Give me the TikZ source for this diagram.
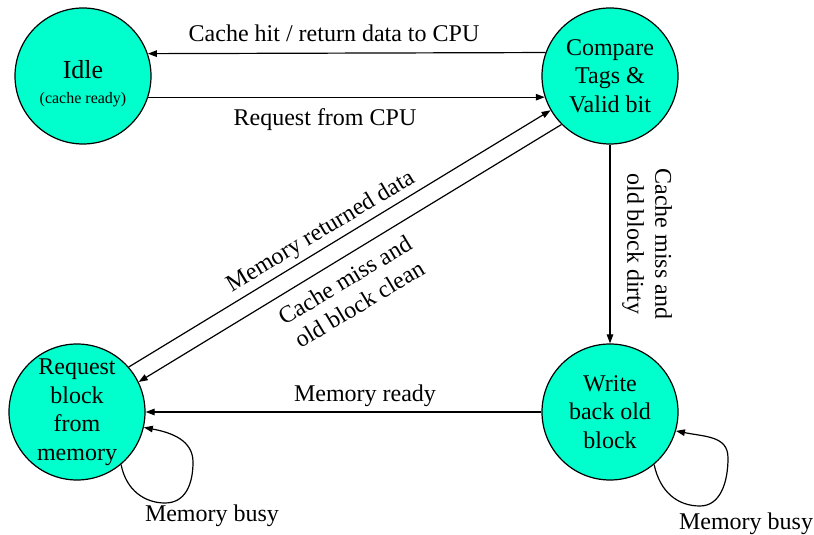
\documentclass[tikz,border=0pt]{standalone}
\usepackage{fontspec}
\setmainfont{Liberation Serif}
\usetikzlibrary{arrows.meta,calc}
\definecolor{statefill}{HTML}{00FFCC}
\tikzset{
  state/.style={circle, draw=black, line width=1.2pt, fill=statefill,
    minimum size=136pt, inner sep=0pt, align=center,
    font=\fontsize{24}{28.5}\selectfont},
  arr/.style={line width=1.2pt, -{Triangle[length=9pt,width=6.5pt]}},
  lbl/.style={font=\fontsize{24}{28}\selectfont, inner sep=0pt},
}
\begin{document}
\begin{tikzpicture}[x=1pt,y=1pt]
\useasboundingbox (0,0) rectangle (814,535);

% states
\node[state] (idle) at (83,459)
  {\rule{0pt}{33pt}{\fontsize{26}{28}\selectfont Idle}\\[-3pt]{\fontsize{16}{18}\selectfont (cache ready)}};
\node[state] (cmp) at (610,459) {Compare\\Tags \&\\Valid bit};
\node[state] (req) at (77,123) {Request\\block\\from\\memory};
\node[state] (wb) at (610,123) {Write\\back old\\block};

% transitions
\draw[arr] (cmp.160.23) -- (idle.19.77);
\draw[arr] (idle.-18.87) -- (cmp.198.87);
\draw[arr] (req.41) -- (cmp.210);
\draw[arr] (cmp.225) -- (req.26);
\draw[arr] (cmp.south) -- (wb.north);
\draw[arr] (wb.west) -- (req.east);

% memory busy self loops
\draw[arr] (req.-50) .. controls +(5,-26) and +(-20,0) .. ($(req)+(88,-91)$)
  .. controls +(20,0) and +(0,-23) .. ($(req)+(116,-50)$)
  .. controls +(0,22) and +(27,-5) .. (req.-13);
\draw[arr] (wb.-50) .. controls +(6,-28) and +(-22,0) .. ($(wb)+(90,-94)$)
  .. controls +(20,0) and +(0,-25) .. ($(wb)+(118,-46)$)
  .. controls +(0,22) and +(30,-6) .. (wb.-16);

% labels
\node[lbl, anchor=base] (lhit) at (334,493) {Cache hit / return data to CPU};
\node[lbl, anchor=base] (lcpu) at (325,409) {Request from CPU};
\node[lbl, rotate=31] (lret) at (321,303) {Memory returned data};
\node[lbl, rotate=31, align=center] (lclean) at (352,243) {Cache miss and\\old block clean};
\node[lbl, rotate=-90, align=center] (ldirty) at (647,291) {Cache miss and\\old block dirty};
\node[lbl, anchor=base] (lready) at (365,133) {Memory ready};
\node[lbl, anchor=base] (lbusya) at (212,13) {Memory busy};
\node[lbl, anchor=base] (lbusyb) at (746,5) {Memory busy};
\end{tikzpicture}
\end{document}
